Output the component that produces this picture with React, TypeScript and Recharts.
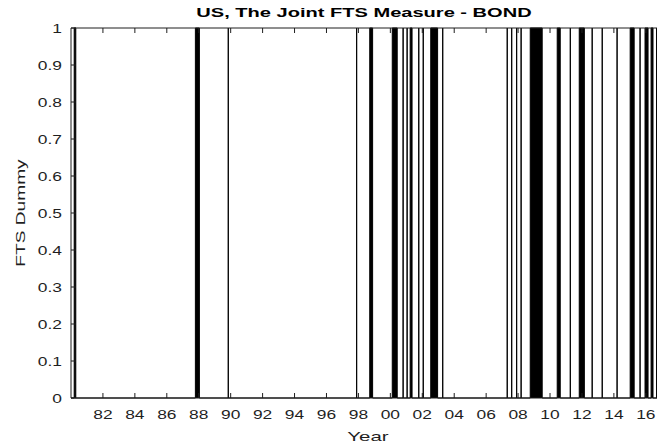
import React from 'react';
import { AreaChart, Area, XAxis, YAxis, Label } from 'recharts';

// FTS episodes (fractional years): start and end of each period where the dummy is 1
const episodeStart = [
  1980.2, 1987.79, 1989.85, 1997.89, 1998.71, 2000.12, 2000.8, 2001.05, 2001.24,
  2001.78, 2002.06, 2002.53, 2003.28, 2007.32, 2007.6, 2007.91, 2008.19, 2008.76,
  2010.45, 2011.27, 2011.83, 2012.64, 2013.27, 2014.2, 2015.02, 2015.64, 2015.95,
  2016.33, 2016.68,
];
const episodeEnd = [
  1980.3, 1988.04, 1989.85, 1997.89, 1998.89, 2000.43, 2000.8, 2001.05, 2001.36,
  2001.78, 2002.06, 2002.96, 2003.28, 2007.32, 2007.6, 2007.91, 2008.19, 2009.51,
  2010.64, 2011.27, 2012.15, 2012.64, 2013.27, 2014.2, 2015.27, 2015.64, 2016.14,
  2016.45, 2016.68,
];

const sampleStart = 1980;
const sampleEnd = 2016.7;
const yearTicks = [
  1982, 1984, 1986, 1988, 1990, 1992, 1994, 1996, 1998, 2000, 2002, 2004, 2006,
  2008, 2010, 2012, 2014, 2016,
];
const dummyTicks = [0, 0.1, 0.2, 0.3, 0.4, 0.5, 0.6, 0.7, 0.8, 0.9, 1];

const titleText = 'US, The Joint FTS Measure - BOND';
const xLabelText = 'Year';
const yLabelText = 'FTS Dummy';

// Step series: 0 outside episodes, 1 inside
const series: { year: number; fts: number }[] = [{ year: sampleStart, fts: 0 }];
episodeStart.forEach((s, i) => {
  const e = episodeEnd[i];
  series.push({ year: s, fts: 0 }, { year: s, fts: 1 }, { year: e, fts: 1 }, { year: e, fts: 0 });
});
series.push({ year: sampleEnd, fts: 0 });

const FONT = '"Liberation Sans", Arial, Helvetica, sans-serif';
const INK = '#1f1f1f';
const STRETCH = 1.45;

const yearLabel = (v: number) => String(v % 100).padStart(2, '0');
const dummyLabel = (v: number) => (v === 0 || v === 1 ? String(v) : v.toFixed(1));

const XTick = (props: any) => {
  const { x, y, payload } = props;
  return (
    <text
      transform={`translate(${x},${y}) scale(${STRETCH},1)`}
      textAnchor="middle"
      fontSize={12}
      fontFamily={FONT}
      fill={INK}
    >
      {yearLabel(payload.value)}
    </text>
  );
};

const YTick = (props: any) => {
  const { x, y, payload } = props;
  return (
    <text
      transform={`translate(${x},${y + 1}) scale(${STRETCH},1)`}
      textAnchor="end"
      dy="0.35em"
      fontSize={12}
      fontFamily={FONT}
      fill={INK}
    >
      {dummyLabel(payload.value)}
    </text>
  );
};

const NoTick = () => <g />;

const TitleLabel = (props: any) => {
  const vb = props.viewBox || {};
  const cx = vb.x + vb.width / 2;
  return (
    <text
      transform={`translate(${cx},${vb.y + 9}) scale(1.52,1)`}
      textAnchor="middle"
      fontSize={13.2}
      fontWeight="bold"
      fontFamily={FONT}
      fill="#000"
    >
      {titleText}
    </text>
  );
};

const XAxisTitle = (props: any) => {
  const vb = props.viewBox || {};
  const cx = vb.x + vb.width / 2 + 4;
  return (
    <text
      transform={`translate(${cx},${vb.y + 43}) scale(1.55,1)`}
      textAnchor="middle"
      fontSize={13.2}
      fontFamily={FONT}
      fill={INK}
    >
      {xLabelText}
    </text>
  );
};

const YAxisTitle = (props: any) => {
  const vb = props.viewBox || {};
  const cy = vb.y + vb.height / 2;
  return (
    <text
      transform={`translate(${vb.x - 11},${cy}) rotate(-90) scale(${STRETCH},1)`}
      textAnchor="middle"
      dy="0.35em"
      fontSize={13.2}
      fontFamily={FONT}
      fill={INK}
    >
      {yLabelText}
    </text>
  );
};

export default function App() {
  return (
    <div style={{ position: 'absolute', left: 0, top: 0, width: 659, height: 448, background: '#fff' }}>
      <AreaChart
        width={659}
        height={448}
        data={series}
        margin={{ top: 8, right: 2, bottom: 20, left: 31 }}
      >
        <XAxis
          xAxisId="bottom"
          dataKey="year"
          type="number"
          domain={[sampleStart, sampleEnd]}
          allowDataOverflow
          ticks={yearTicks}
          interval={0}
          height={30}
          tickSize={-5}
          tickMargin={26}
          tick={<XTick />}
          axisLine={{ stroke: INK }}
          tickLine={{ stroke: INK }}
        >
          <Label content={<XAxisTitle />} />
        </XAxis>
        <XAxis
          xAxisId="top"
          orientation="top"
          dataKey="year"
          type="number"
          domain={[sampleStart, sampleEnd]}
          allowDataOverflow
          ticks={yearTicks}
          interval={0}
          height={20}
          tickSize={-5}
          tick={<NoTick />}
          axisLine={{ stroke: INK }}
          tickLine={{ stroke: INK }}
        >
          <Label content={<TitleLabel />} />
        </XAxis>
        <YAxis
          yAxisId="left"
          type="number"
          domain={[0, 1]}
          ticks={dummyTicks}
          interval={0}
          width={40}
          tickSize={-5}
          tickMargin={14}
          tick={<YTick />}
          axisLine={{ stroke: INK }}
          tickLine={{ stroke: INK }}
        >
          <Label content={<YAxisTitle />} />
        </YAxis>
        <YAxis
          yAxisId="right"
          orientation="right"
          type="number"
          domain={[0, 1]}
          ticks={dummyTicks}
          interval={0}
          width={0}
          tickSize={-5}
          tick={<NoTick />}
          axisLine={{ stroke: INK }}
          tickLine={{ stroke: INK }}
        />
        <Area
          xAxisId="bottom"
          yAxisId="left"
          type="linear"
          dataKey="fts"
          stroke="#000"
          strokeWidth={1}
          fill="#000"
          fillOpacity={1}
          dot={false}
          activeDot={false}
          isAnimationActive={false}
        />
      </AreaChart>
    </div>
  );
}
